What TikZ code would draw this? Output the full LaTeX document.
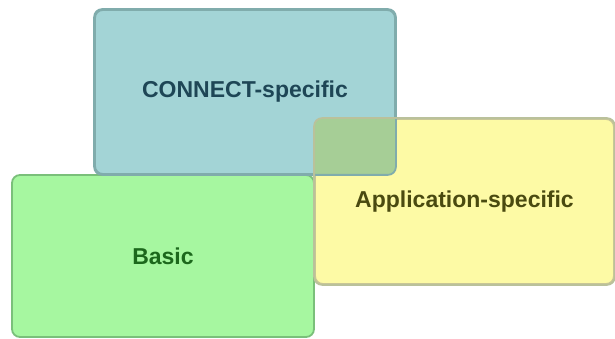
\documentclass[tikz,border=0pt]{standalone}
\usepackage{fontspec}
\setmainfont{Liberation Sans}
\usepackage{tikz}

\definecolor{connectfill}{RGB}{163,212,214}
\definecolor{connectline}{RGB}{128,172,172}
\definecolor{connecttext}{RGB}{30,70,86}
\definecolor{basicfill}{RGB}{166,247,160}
\definecolor{basicline}{RGB}{122,192,122}
\definecolor{basictext}{RGB}{28,104,28}
\definecolor{appfill}{RGB}{253,250,165}
\definecolor{appline}{RGB}{200,198,150}
\definecolor{apptext}{RGB}{74,74,16}
\definecolor{overlapfill}{RGB}{166,206,150}

\tikzset{
    area/.style={rectangle, rounded corners=8pt, line width=1.8pt, inner sep=0pt,
                 font=\fontsize{23}{27}\selectfont\bfseries},
}

\begin{document}
\begin{tikzpicture}[x=1pt, y=-1pt]

    \useasboundingbox (0,0) rectangle (615,339);

    \coordinate (C1) at (245, 92);
    \coordinate (C2) at (163, 256);
    \coordinate (C3) at (464.5, 201.5);

    \node[area, fill=connectfill, draw=connectline, text=connecttext,
          minimum width=300pt, minimum height=164pt] (N1) at (C1) {CONNECT-specific};
    \node[area, fill=basicfill, draw=basicline, text=basictext,
          minimum width=302pt, minimum height=162pt] (N2) at (C2) {Basic};
    \node[area, fill=appfill, draw=appline, text=apptext,
          minimum width=299pt, minimum height=165pt] (N3) at (C3) {Application-specific};

    % where the two top boxes overlap
    \begin{scope}
        \clip[rounded corners=8pt] (N1.south west) rectangle (N1.north east);
        \fill[overlapfill, rounded corners=8pt] (N3.south west) rectangle (N3.north east);
    \end{scope}
    \draw[connectline, line width=1.8pt, rounded corners=8pt] (N1.south west) rectangle (N1.north east);
    \draw[appline!80!connectline, line width=1.8pt, rounded corners=8pt] (N3.south west) rectangle (N3.north east);

\end{tikzpicture}
\end{document}
